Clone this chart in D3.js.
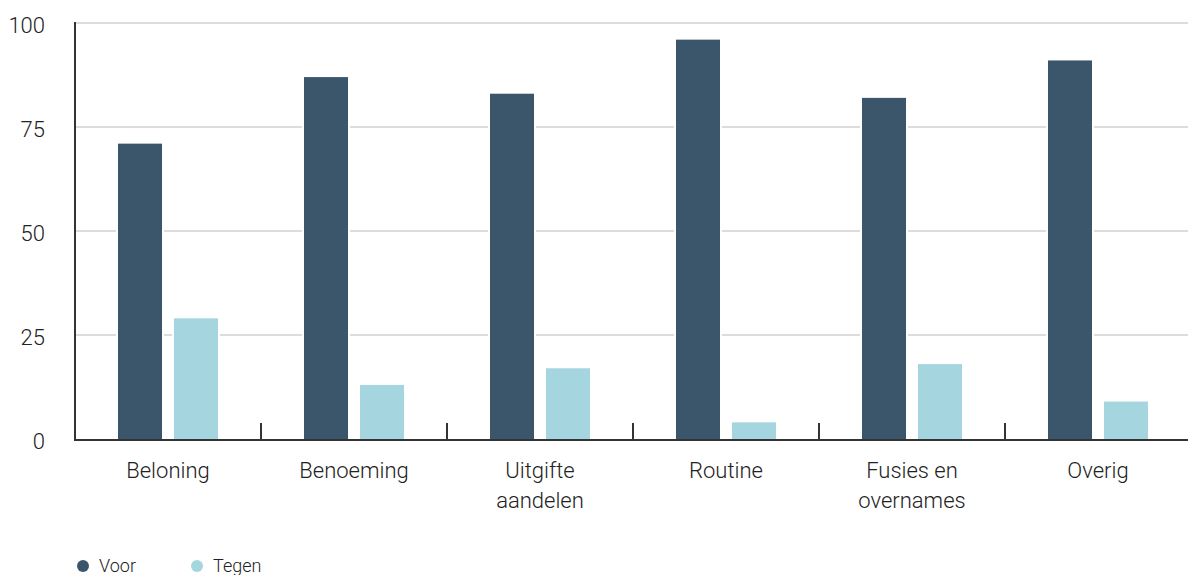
<!DOCTYPE html>
<html>
<head>
<meta charset="utf-8">
<script src="https://cdn.jsdelivr.net/npm/d3@7"></script>
<style>
  html, body { margin: 0; padding: 0; background: #fff; }
  svg text { font-family: Roboto, "Liberation Sans", sans-serif; font-weight: 300; fill: #222; }
</style>
</head>
<body>
<svg id="chart"></svg>
<script>
// Data
let categories = ["Beloning", "Benoeming", "Uitgifte\naandelen", "Routine", "Fusies en\novernames", "Overig"];
let series = ["Voor", "Tegen"];
let voor = [71, 87, 83, 96, 82, 91];
let tegen = [29, 13, 17, 4, 18, 9];
let yTicks = [0, 25, 50, 75, 100];
let colors = ["#3b566b", "#a5d5df"];

let width = 1188, height = 575;

let svg = d3.select("#chart")
  .attr("viewBox", [0, 0, width, height])
  .attr("width", width)
  .attr("height", height);

let x = d3.scaleBand().domain(categories).range([75, 1191]).padding(0);
let xSub = d3.scaleBand().domain(series).range([0, x.bandwidth()])
  .paddingInner(0.214).paddingOuter(0.768);
let y = d3.scaleLinear().domain([0, 100]).range([439, 23]);

// Gridlines
svg.append("g").selectAll("line").data(yTicks.filter(d => d > 0)).join("line")
  .attr("x1", 75).attr("x2", width)
  .attr("y1", d => y(d)).attr("y2", d => y(d))
  .attr("stroke", "#dcdcdc")
  .attr("stroke-width", 2);

// Y labels
let yAxis = d3.axisLeft(y).tickValues(yTicks).tickSize(0).tickPadding(0);
let gy = svg.append("g").attr("transform", "translate(45,2)").call(yAxis);
gy.select(".domain").remove();
gy.selectAll("text")
  .attr("font-size", null)
  .style("font-size", "22px")
  .style("font-family", "Roboto, 'Liberation Sans', sans-serif")
  .attr("fill", "#222");

// Bars
let rows = categories.map((c, i) => ({ cat: c, values: [voor[i], tegen[i]] }));
let groups = svg.append("g").selectAll("g").data(rows).join("g")
  .attr("transform", d => "translate(" + x(d.cat) + ",0)");

groups.selectAll("rect")
  .data(d => d.values.map((v, j) => ({ key: series[j], value: v, color: colors[j] })))
  .join("rect")
  .attr("x", d => xSub(d.key))
  .attr("width", xSub.bandwidth())
  .attr("y", d => y(d.value))
  .attr("height", d => y(0) - y(d.value))
  .attr("fill", d => d.color)
  .attr("stroke", "#fff")
  .attr("stroke-width", 4)
  .style("paint-order", "stroke");

// Axes lines
svg.append("line")
  .attr("x1", 75).attr("x2", width)
  .attr("y1", y(0) + 1).attr("y2", y(0) + 1)
  .attr("stroke", "#333").attr("stroke-width", 2);
svg.append("line")
  .attr("x1", 75).attr("x2", 75)
  .attr("y1", 22).attr("y2", y(0) + 2)
  .attr("stroke", "#333").attr("stroke-width", 2);

// Category separator ticks
svg.append("g").selectAll("line").data(categories.slice(1)).join("line")
  .attr("x1", d => x(d)).attr("x2", d => x(d))
  .attr("y1", 423).attr("y2", y(0))
  .attr("stroke", "#333").attr("stroke-width", 2);

// Category labels
let labels = svg.append("g").selectAll("text").data(categories).join("text")
  .attr("x", d => x(d) + x.bandwidth() / 2)
  .attr("y", 478)
  .attr("text-anchor", "middle")
  .style("font-size", "22px");
labels.selectAll("tspan").data(d => d.split("\n")).join("tspan")
  .attr("x", function() { return this.parentNode.getAttribute("x"); })
  .attr("dy", (d, i) => i == 0 ? 0 : 30)
  .text(d => d);

// Legend
let legendX = [83, 197];
let legend = svg.append("g").selectAll("g").data(series).join("g")
  .attr("transform", (d, i) => "translate(" + legendX[i] + ",566)");
legend.append("circle").attr("r", 6).attr("fill", (d, i) => colors[i]);
legend.append("text")
  .attr("x", 16).attr("y", 6)
  .style("font-size", "18px")
  .text(d => d);
</script>
</body>
</html>
